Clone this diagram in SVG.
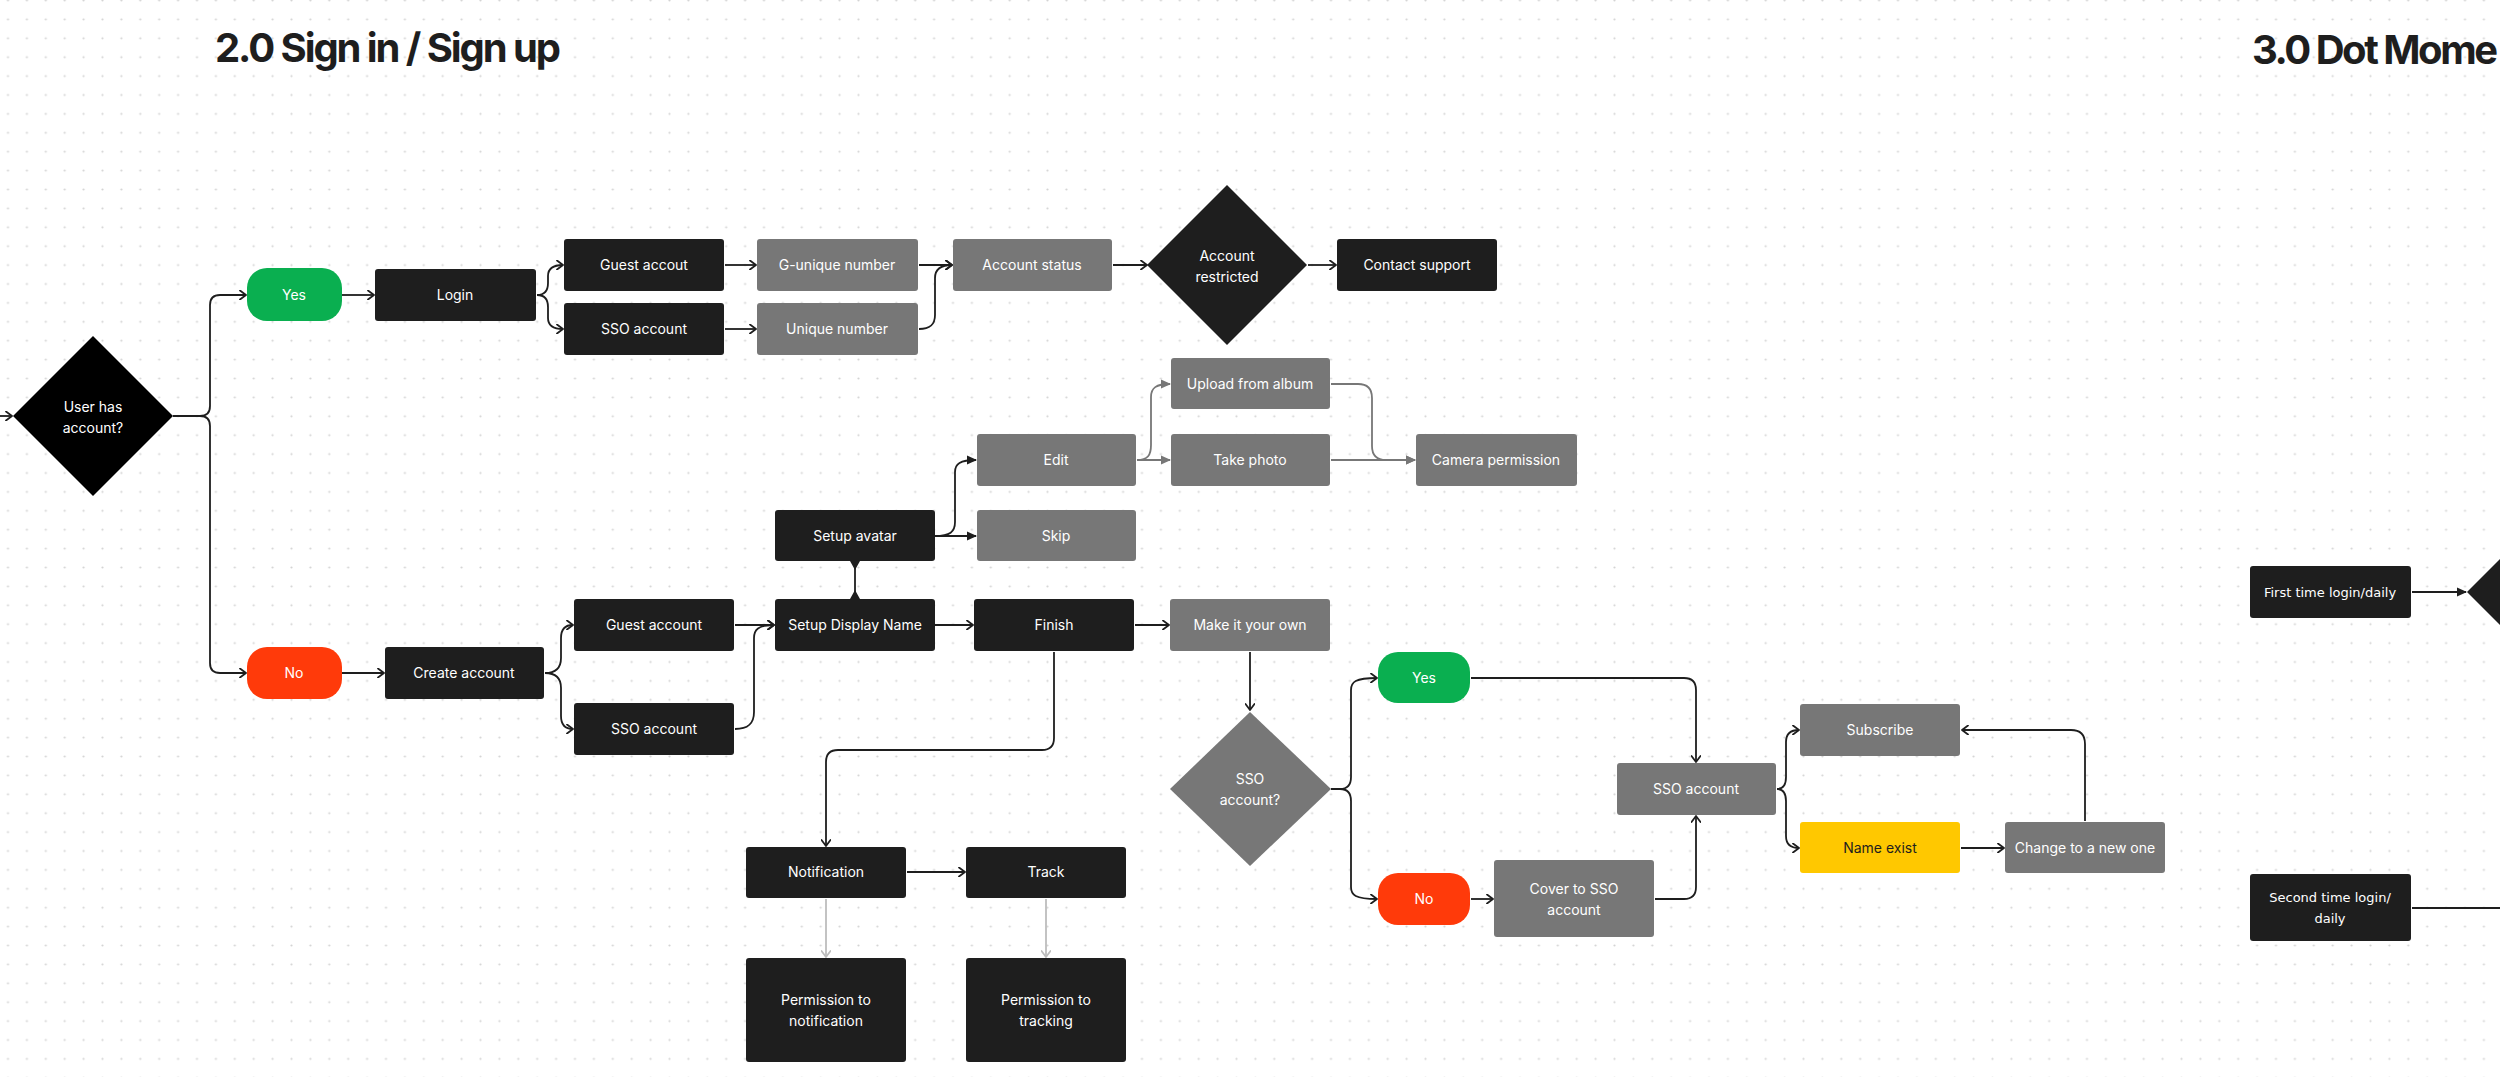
<svg xmlns="http://www.w3.org/2000/svg" width="2500" height="1077" viewBox="0 0 2500 1077">
<defs>
<pattern id="dots" x="-1.45" y="-8.95" width="18.9" height="18.9" patternUnits="userSpaceOnUse"><circle cx="9.45" cy="9.45" r="1.1" fill="#d4d4d4"/></pattern>
<marker id="open" viewBox="0 0 10 10" refX="9" refY="5" markerWidth="10" markerHeight="10" markerUnits="userSpaceOnUse" orient="auto"><path d="M3,0.5 L9,5 L3,9.5" fill="none" stroke="#1e1e1e" stroke-width="1.8" stroke-linejoin="round" stroke-linecap="round"/></marker>
<marker id="openl" viewBox="0 0 10 10" refX="9" refY="5" markerWidth="10" markerHeight="10" markerUnits="userSpaceOnUse" orient="auto"><path d="M3,0.5 L9,5 L3,9.5" fill="none" stroke="#bdbdbd" stroke-width="1.8" stroke-linejoin="round" stroke-linecap="round"/></marker>
<marker id="fill" viewBox="0 0 10 10" refX="9" refY="5" markerWidth="10" markerHeight="10" markerUnits="userSpaceOnUse" orient="auto"><path d="M0,0.5 L10,5 L0,9.5 z" fill="#1e1e1e"/></marker>
<marker id="fillg" viewBox="0 0 10 10" refX="9" refY="5" markerWidth="10" markerHeight="10" markerUnits="userSpaceOnUse" orient="auto"><path d="M0,0.5 L10,5 L0,9.5 z" fill="#777777"/></marker>
</defs>
<style>
.dk{fill:#1e1e1e}
.gr{fill:#777777}
.gn{fill:#0aaf50}
.rd{fill:#ff3a0a}
.yl{fill:#ffc800}
.t{font-family:Inter,"Liberation Sans",sans-serif;font-size:14px;fill:#ffffff;text-anchor:middle}
.tb{font-family:Inter,"Liberation Sans",sans-serif;font-size:14px;fill:#1e1e1e;text-anchor:middle}
.tw{font-family:"DejaVu Sans",sans-serif;font-size:13px;fill:#ffffff;text-anchor:middle}
.h{font-family:Inter,"Liberation Sans",sans-serif;font-size:40px;font-weight:700;fill:#1e1e1e}
.c{fill:none;stroke:#1e1e1e;stroke-width:1.8;stroke-linejoin:round}
.cg{fill:none;stroke:#777777;stroke-width:1.8;stroke-linejoin:round}
.cl{fill:none;stroke:#bdbdbd;stroke-width:1.8}
</style>
<rect width="2500" height="1077" fill="#ffffff"/>
<rect width="2500" height="1077" fill="url(#dots)"/>

<text class="h" x="215" y="62" textLength="346" lengthAdjust="spacing">2.0 Sign in / Sign up</text>
<text class="h" x="2252" y="64" textLength="246" lengthAdjust="spacing">3.0 Dot Mome</text>

<g id="connectors">
<path class="c" d="M-5,416 H12" marker-end="url(#open)"/>
<path class="c" d="M173,416 H200 Q210,416 210,406 V305 Q210,295 220,295 H246" marker-end="url(#open)"/>
<path class="c" d="M173,416 H200 Q210,416 210,426 V663 Q210,673 220,673 H246" marker-end="url(#open)"/>
<path class="c" d="M342,295 H374" marker-end="url(#open)"/>
<path class="c" d="M537,295 C545,295 548,290 548,283 V276 C548,269 552,265 563,265" marker-end="url(#open)"/>
<path class="c" d="M537,295 C545,295 548,300 548,307 V318 C548,325 552,329 563,329" marker-end="url(#open)"/>
<path class="c" d="M725,265 H756" marker-end="url(#open)"/>
<path class="c" d="M725,329 H756" marker-end="url(#open)"/>
<path class="c" d="M919,265 H952" marker-end="url(#open)"/>
<path class="c" d="M919,329 C930,329 935,325 935,315 V278 C935,270 940,265 952,265" marker-end="url(#open)"/>
<path class="c" d="M1113,265 H1147" marker-end="url(#open)"/>
<path class="c" d="M1308,265 H1336" marker-end="url(#open)"/>
<path class="c" d="M935,536 H976" marker-end="url(#fill)"/>
<path class="c" d="M935,536 C950,536 955,532 955,522 V472 C955,464 960,460 976,460" marker-end="url(#fill)"/>
<path class="cg" d="M1137,460 H1170" marker-end="url(#fillg)"/>
<path class="cg" d="M1137,460 C1148,460 1151,455 1151,445 V397 C1151,388 1156,384 1170,384" marker-end="url(#fillg)"/>
<path class="cg" d="M1331,384 H1358 Q1372,384 1372,398 V446 Q1372,460 1386,460 H1415" marker-end="url(#fillg)"/>
<path class="cg" d="M1331,460 H1415" marker-end="url(#fillg)"/>
<path class="c" d="M342,673 H384" marker-end="url(#open)"/>
<path class="c" d="M545,673 C555,673 561,668 561,658 V638 C561,630 565,625 573,625" marker-end="url(#open)"/>
<path class="c" d="M545,673 C555,673 561,678 561,688 V716 C561,724 565,729 573,729" marker-end="url(#open)"/>
<path class="c" d="M735,625 H774" marker-end="url(#open)"/>
<path class="c" d="M735,729 C748,729 754,724 754,712 V638 C754,630 758,625 774,625" marker-end="url(#open)"/>
<path class="c" d="M855,561 V599"/>
<path class="dk" d="M850,561 H860 L855,570 z M850,599 H860 L855,590 z"/>
<path class="c" d="M935,625 H973" marker-end="url(#open)"/>
<path class="c" d="M1135,625 H1169" marker-end="url(#open)"/>
<path class="c" d="M1054,652 V738 Q1054,750 1042,750 H838 Q826,750 826,762 V846" marker-end="url(#open)"/>
<path class="c" d="M907,872 H965" marker-end="url(#open)"/>
<path class="cl" d="M826,899 V957" marker-end="url(#openl)"/>
<path class="cl" d="M1046,899 V957" marker-end="url(#openl)"/>
<path class="c" d="M1250,652 V710" marker-end="url(#open)"/>
<path class="c" d="M1331,789 H1340 C1347,789 1351,785 1351,777 V690 C1351,682 1355,678 1377,678" marker-end="url(#open)"/>
<path class="c" d="M1331,789 H1340 C1347,789 1351,793 1351,801 V887 C1351,895 1355,899 1377,899" marker-end="url(#open)"/>
<path class="c" d="M1471,899 H1493" marker-end="url(#open)"/>
<path class="c" d="M1471,678 H1684 Q1696,678 1696,690 V762" marker-end="url(#open)"/>
<path class="c" d="M1655,899 H1684 Q1696,899 1696,887 V816" marker-end="url(#open)"/>
<path class="c" d="M1777,789 C1783,789 1786,785 1786,777 V742 C1786,734 1790,730 1799,730" marker-end="url(#open)"/>
<path class="c" d="M1777,789 C1783,789 1786,793 1786,801 V836 C1786,844 1790,848 1799,848" marker-end="url(#open)"/>
<path class="c" d="M1961,848 H2004" marker-end="url(#open)"/>
<path class="c" d="M2085,821 V744 Q2085,730 2071,730 H1962" marker-end="url(#open)"/>
<path class="c" d="M2412,592 H2466" marker-end="url(#fill)"/>
<path class="c" d="M2412,908 H2500"/>
</g>

<g id="user-has-account"><path class="dk" d="M93,336 L173,416 L93,496 L13,416 z" style="fill:#000"/><text class="t" x="93" y="412">User has</text><text class="t" x="93" y="433">account?</text></g>
<g id="yes-1"><rect class="gn" x="247" y="268" width="95" height="53" rx="20"/><text class="t" x="294" y="300">Yes</text></g>
<g id="no-1"><rect class="rd" x="247" y="647" width="95" height="52" rx="20"/><text class="t" x="294" y="678">No</text></g>
<g id="login"><rect class="dk" x="375" y="269" width="161" height="52" rx="3"/><text class="t" x="455" y="300">Login</text></g>
<g id="guest-accout"><rect class="dk" x="564" y="239" width="160" height="52" rx="3"/><text class="t" x="644" y="270">Guest accout</text></g>
<g id="sso-account-1"><rect class="dk" x="564" y="303" width="160" height="52" rx="3"/><text class="t" x="644" y="334">SSO account</text></g>
<g id="g-unique-number"><rect class="gr" x="757" y="239" width="161" height="52" rx="3"/><text class="t" x="837" y="270">G-unique number</text></g>
<g id="unique-number"><rect class="gr" x="757" y="303" width="161" height="52" rx="3"/><text class="t" x="837" y="334">Unique number</text></g>
<g id="account-status"><rect class="gr" x="953" y="239" width="159" height="52" rx="3"/><text class="t" x="1032" y="270">Account status</text></g>
<g id="account-restricted"><path class="dk" d="M1227,185 L1307,265 L1227,345 L1147,265 z"/><text class="t" x="1227" y="261">Account</text><text class="t" x="1227" y="282">restricted</text></g>
<g id="contact-support"><rect class="dk" x="1337" y="239" width="160" height="52" rx="3"/><text class="t" x="1417" y="270">Contact support</text></g>

<g id="upload-from-album"><rect class="gr" x="1171" y="358" width="159" height="51" rx="3"/><text class="t" x="1250" y="389">Upload from album</text></g>
<g id="take-photo"><rect class="gr" x="1171" y="434" width="159" height="52" rx="3"/><text class="t" x="1250" y="465">Take photo</text></g>
<g id="camera-permission"><rect class="gr" x="1416" y="434" width="161" height="52" rx="3"/><text class="t" x="1496" y="465">Camera permission</text></g>
<g id="edit"><rect class="gr" x="977" y="434" width="159" height="52" rx="3"/><text class="t" x="1056" y="465">Edit</text></g>
<g id="skip"><rect class="gr" x="977" y="510" width="159" height="51" rx="3"/><text class="t" x="1056" y="541">Skip</text></g>
<g id="setup-avatar"><rect class="dk" x="775" y="510" width="160" height="51" rx="3"/><text class="t" x="855" y="541">Setup avatar</text></g>

<g id="create-account"><rect class="dk" x="385" y="647" width="159" height="52" rx="3"/><text class="t" x="464" y="678">Create account</text></g>
<g id="guest-account"><rect class="dk" x="574" y="599" width="160" height="52" rx="3"/><text class="t" x="654" y="630">Guest account</text></g>
<g id="sso-account-2"><rect class="dk" x="574" y="703" width="160" height="52" rx="3"/><text class="t" x="654" y="734">SSO account</text></g>
<g id="setup-display-name"><rect class="dk" x="775" y="599" width="160" height="52" rx="3"/><text class="t" x="855" y="630">Setup Display Name</text></g>
<g id="finish"><rect class="dk" x="974" y="599" width="160" height="52" rx="3"/><text class="t" x="1054" y="630">Finish</text></g>
<g id="make-it-your-own"><rect class="gr" x="1170" y="599" width="160" height="52" rx="3"/><text class="t" x="1250" y="630">Make it your own</text></g>
<g id="notification"><rect class="dk" x="746" y="847" width="160" height="51" rx="3"/><text class="t" x="826" y="877">Notification</text></g>
<g id="track"><rect class="dk" x="966" y="847" width="160" height="51" rx="3"/><text class="t" x="1046" y="877">Track</text></g>
<g id="permission-notification"><rect class="dk" x="746" y="958" width="160" height="104" rx="3"/><text class="t" x="826" y="1005">Permission to</text><text class="t" x="826" y="1026">notification</text></g>
<g id="permission-tracking"><rect class="dk" x="966" y="958" width="160" height="104" rx="3"/><text class="t" x="1046" y="1005">Permission to</text><text class="t" x="1046" y="1026">tracking</text></g>

<g id="sso-account-question"><path class="gr" d="M1250,712 L1331,789 L1250,866 L1170,789 z"/><text class="t" x="1250" y="784">SSO</text><text class="t" x="1250" y="805">account?</text></g>
<g id="yes-2"><rect class="gn" x="1378" y="652" width="92" height="51" rx="20"/><text class="t" x="1424" y="683">Yes</text></g>
<g id="no-2"><rect class="rd" x="1378" y="873" width="92" height="52" rx="20"/><text class="t" x="1424" y="904">No</text></g>
<g id="cover-to-sso"><rect class="gr" x="1494" y="860" width="160" height="77" rx="3"/><text class="t" x="1574" y="894">Cover to SSO</text><text class="t" x="1574" y="915">account</text></g>
<g id="sso-account-3"><rect class="gr" x="1617" y="763" width="159" height="52" rx="3"/><text class="t" x="1696" y="794">SSO account</text></g>
<g id="subscribe"><rect class="gr" x="1800" y="704" width="160" height="52" rx="3"/><text class="t" x="1880" y="735">Subscribe</text></g>
<g id="name-exist"><rect class="yl" x="1800" y="822" width="160" height="51" rx="3"/><text class="tb" x="1880" y="853">Name exist</text></g>
<g id="change-to-new"><rect class="gr" x="2005" y="822" width="160" height="51" rx="3"/><text class="t" x="2085" y="853">Change to a new one</text></g>

<g id="first-time-login"><rect class="dk" x="2250" y="566" width="161" height="52" rx="3"/><text class="tw" x="2330" y="597">First time login/daily</text></g>
<g id="diamond-3"><path class="dk" d="M2547,512 L2627,592 L2547,672 L2467,592 z"/></g>
<g id="second-time-login"><rect class="dk" x="2250" y="874" width="161" height="67" rx="3"/><text class="tw" x="2330" y="902">Second time login/</text><text class="tw" x="2330" y="923">daily</text></g>
</svg>
